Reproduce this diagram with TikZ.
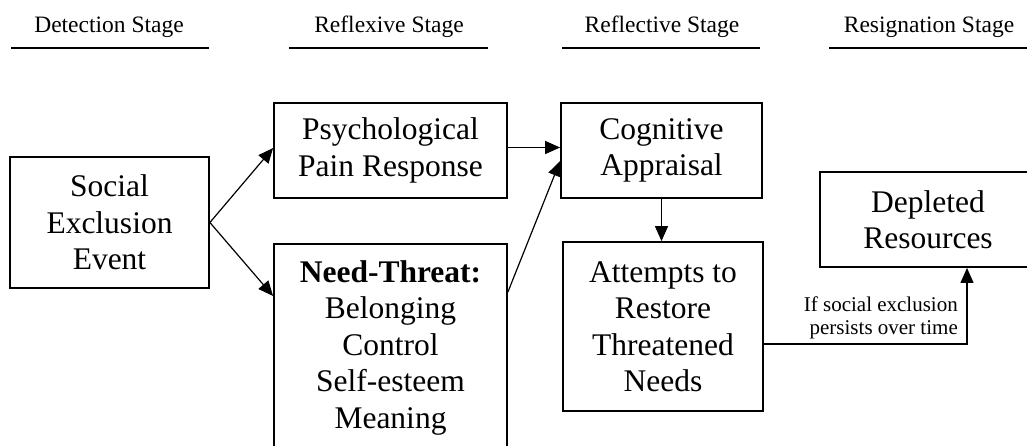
\documentclass[tikz,border=0pt]{standalone}
\usepackage{fontspec}
\setmainfont{Liberation Serif}
\usetikzlibrary{arrows.meta}
\tikzset{
  box/.style={draw=black, line width=1.8pt, rectangle, inner sep=0pt, align=center,
    font=\fontsize{31.5}{36.5}\selectfont},
  stagelabel/.style={anchor=base, inner sep=0pt, font=\fontsize{23.5}{26}\selectfont},
  stageline/.style={line width=2.7pt},
  conn/.style={line width=1.2pt, -{Triangle[length=15pt,width=13pt]}},
  plain/.style={line width=1.2pt},
  note/.style={inner sep=0pt, align=right, font=\fontsize{21}{23}\selectfont}
}
\begin{document}
\begin{tikzpicture}[x=1pt,y=-1pt]
\useasboundingbox (0,0) rectangle (1027,445);
\clip (0,0) rectangle (1027,445);
% stage headers
\node[stagelabel] (h1) at (109,32) {Detection Stage};
\node[stagelabel] (h2) at (389,32) {Reflexive Stage};
\node[stagelabel] (h3) at (662,32) {Reflective Stage};
\node[stagelabel] (h4) at (929,32) {Resignation Stage};
\coordinate (u1a) at (11,48);  \coordinate (u1b) at (209,48);
\coordinate (u2a) at (289,48); \coordinate (u2b) at (488,48);
\coordinate (u3a) at (562,48); \coordinate (u3b) at (760,48);
\coordinate (u4a) at (829,48); \coordinate (u4b) at (1027,48);
\draw[stageline] (u1a) -- (u1b);
\draw[stageline] (u2a) -- (u2b);
\draw[stageline] (u3a) -- (u3b);
\draw[stageline] (u4a) -- (u4b);
% boxes
\node[box, minimum width=199pt, minimum height=131pt] (soc) at (109.5,222.5) {Social\\Exclusion\\Event};
\node[box, minimum width=233pt, minimum height=95pt] (psy) at (390.5,150.5) {Psychological\\Pain Response};
\node[box, minimum width=233pt, minimum height=208pt, anchor=north] (nt) at (390.5,243) {\textbf{Need-Threat:}\\Belonging\\Control\\Self-esteem\\Meaning};
\node[box, minimum width=201pt, minimum height=95pt] (cog) at (661.5,150.5) {Cognitive\\Appraisal};
\node[box, minimum width=200pt, minimum height=169pt] (att) at (663,326.5) {Attempts to\\Restore\\Threatened\\Needs};
\node[box, minimum width=216pt, minimum height=95pt] (dep) at (928,219.5) {Depleted\\Resources};
% connectors
\draw[conn] (soc.east) -- ([yshift=2.5pt]psy.west);
\draw[conn] (soc.east) -- ([yshift=-53pt]nt.north west);
\draw[conn] ([yshift=3pt]psy.east) -- ([yshift=3pt]cog.west);
\draw[conn] ([yshift=-49pt]nt.north east) -- ([yshift=-59pt]cog.north west);
\draw[conn] (cog.south) -- (cog.south |- att.north);
\coordinate (corner) at ([xshift=39pt]dep.south |- 0,344);
\draw[conn] ([yshift=-17.5pt]att.east) -- (corner) -- ([xshift=39pt]dep.south);
\node[note, anchor=south east] (lbl) at ([xshift=-9pt,yshift=4.5pt]corner) {If social exclusion\\persists over time};
\end{tikzpicture}
\end{document}
